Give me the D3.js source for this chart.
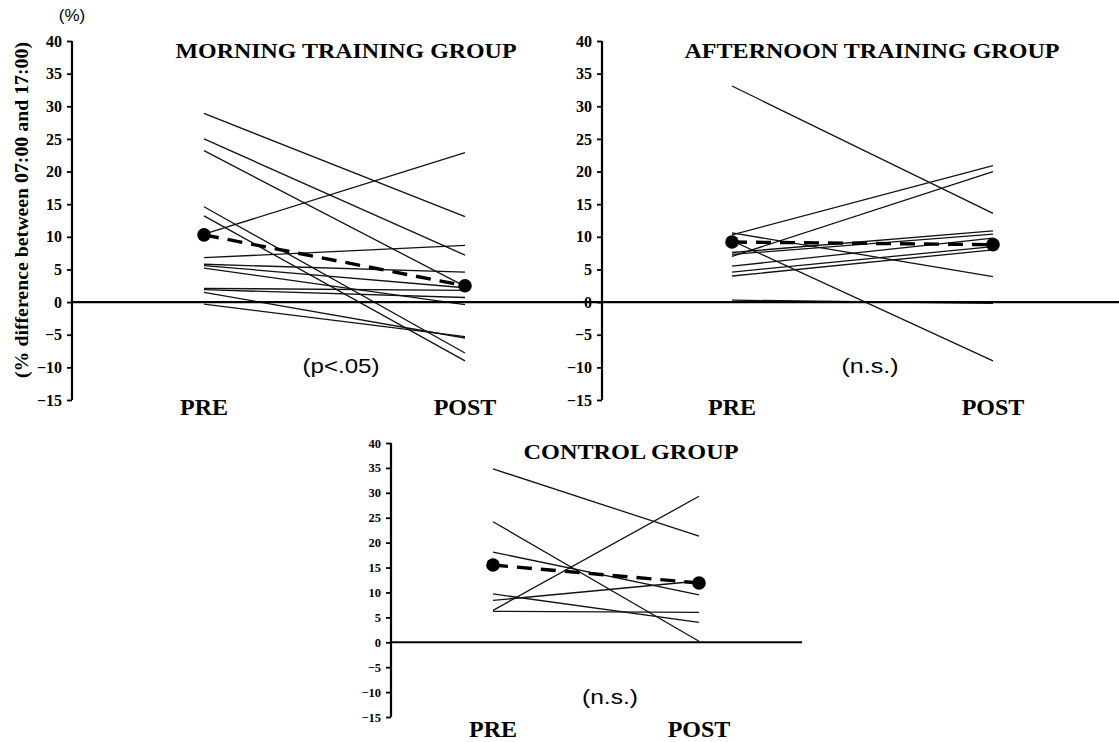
<!DOCTYPE html>
<html>
<head>
<meta charset="utf-8">
<script src="https://cdn.jsdelivr.net/npm/d3@7"></script>
<style>
  body { margin: 0; background: #fff; }
  text { fill: #000; }
  .serif { font-family: "Liberation Serif", "Times New Roman", serif; font-weight: bold; }
  .sans { font-family: "Liberation Sans", Arial, sans-serif; }
</style>
</head>
<body>
<div id="chart"></div>
<script>
// values (% difference between 07:00 and 17:00)
var phases = ['PRE', 'POST'];
var yTicks = [-15, -10, -5, 0, 5, 10, 15, 20, 25, 30, 35, 40];

var morningPre  = [28.9, 25.0, 23.2, 14.6, 13.2, 10.4, 6.8, 5.8, 5.6, 5.2, 2.1, 1.9, 1.5, -0.3];
var morningPost = [13.1, 7.2, 2.4, -7.8, -9.0, 22.9, 8.7, 4.6, 2.2, -0.4, 1.8, 0.7, -5.5, -5.3];
var morningMean = [10.3, 2.5];

var afternoonPre  = [33.1, 10.3, 7.0, 10.6, 9.4, 0.3, 7.6, 7.3, 5.5, 4.6, 4.0];
var afternoonPost = [13.6, 20.9, 20.0, 3.9, -9.0, -0.2, 10.9, 10.4, 9.8, 8.5, 8.0];
var afternoonMean = [9.2, 8.8];

var controlPre  = [34.8, 24.2, 18.1, 9.7, 8.4, 6.4, 6.2];
var controlPost = [21.3, 0.2, 9.5, 4.0, 12.3, 29.3, 6.0];
var controlMean = [15.5, 11.9];

var svg = d3.select('#chart').append('svg')
            .attr('width', 1119)
            .attr('height', 742);

var panels = [
  {title: 'MORNING TRAINING GROUP', note: '(p<.05)', pre: morningPre, post: morningPost, mean: morningMean,
   axisX: 72, preX: 204, postX: 465, top: 41, bottom: 400, zeroEnd: 602,
   titleX: 346, titleY: 58, titleW: 341, noteX: 341, noteY: 373, noteW: 77, labelY: 415, tickFont: 16},
  {title: 'AFTERNOON TRAINING GROUP', note: '(n.s.)', pre: afternoonPre, post: afternoonPost, mean: afternoonMean,
   axisX: 602, preX: 732, postX: 993, top: 41, bottom: 400, zeroEnd: 1119,
   titleX: 872, titleY: 58, titleW: 375, noteX: 870, noteY: 373, noteW: 57, labelY: 415, tickFont: 16},
  {title: 'CONTROL GROUP', note: '(n.s.)', pre: controlPre, post: controlPost, mean: controlMean,
   axisX: 391, preX: 493, postX: 699, top: 443, bottom: 717, zeroEnd: 802,
   titleX: 631, titleY: 459, titleW: 215, noteX: 610, noteY: 704, noteW: 56, labelY: 737, tickFont: 12.5}
];

panels.forEach(function(p) {
  var y = d3.scaleLinear().domain([-15, 40]).range([p.bottom, p.top]);
  var x = d3.scalePoint().domain(phases).range([p.preX, p.postX]);
  var g = svg.append('g');

  // individual subjects
  var pairs = p.pre.map(function(v, i) { return [v, p.post[i]]; });
  g.selectAll('line.subject')
   .data(pairs)
   .enter().append('line')
     .attr('class', 'subject')
     .attr('x1', x('PRE')).attr('x2', x('POST'))
     .attr('y1', function(d) { return y(d[0]); })
     .attr('y2', function(d) { return y(d[1]); })
     .style('stroke', '#111')
     .style('stroke-width', 1.3);

  // zero line
  g.append('line')
   .attr('x1', p.axisX).attr('x2', p.zeroEnd)
   .attr('y1', y(0)).attr('y2', y(0))
   .style('stroke', '#000').style('stroke-width', 2.2);

  // y axis
  var axis = g.append('g')
              .attr('transform', 'translate(' + p.axisX + ',0)')
              .call(d3.axisLeft(y).tickValues(yTicks).tickSize(5).tickPadding(5));
  axis.select('.domain').style('stroke-width', 2.2).attr('d', 'M0,' + p.top + 'V' + p.bottom);
  axis.selectAll('.tick line').style('stroke-width', 1.8);
  axis.selectAll('.tick text')
      .attr('class', 'serif')
      .style('font-size', p.tickFont + 'px');

  // mean line
  g.append('path')
   .datum(p.mean)
   .attr('d', d3.line().x(function(d, i) { return x(phases[i]); }).y(function(d) { return y(d); }))
   .style('fill', 'none').style('stroke', '#000')
   .style('stroke-width', 3.4).style('stroke-dasharray', '15,9');
  g.selectAll('circle')
   .data(p.mean)
   .enter().append('circle')
     .attr('cx', function(d, i) { return x(phases[i]); })
     .attr('cy', function(d) { return y(d); })
     .attr('r', 6.8)
     .style('fill', '#000');

  // texts
  g.append('text').attr('class', 'serif')
   .attr('x', p.titleX).attr('y', p.titleY)
   .attr('text-anchor', 'middle').style('font-size', '22px')
   .attr('textLength', p.titleW).attr('lengthAdjust', 'spacingAndGlyphs')
   .text(p.title);
  g.append('text').attr('class', 'sans')
   .attr('x', p.noteX).attr('y', p.noteY)
   .attr('text-anchor', 'middle').style('font-size', '21px')
   .attr('textLength', p.noteW).attr('lengthAdjust', 'spacingAndGlyphs')
   .text(p.note);
  g.selectAll('text.phase')
   .data(phases)
   .enter().append('text')
     .attr('class', 'serif phase')
     .attr('x', function(d) { return x(d); })
     .attr('y', p.labelY)
     .attr('text-anchor', 'middle').style('font-size', '24px')
     .text(function(d) { return d; });
});

svg.append('text').attr('class', 'sans')
   .attr('x', 72).attr('y', 21)
   .attr('text-anchor', 'middle').style('font-size', '17px')
   .text('(%)');

svg.append('text').attr('class', 'serif')
   .attr('transform', 'translate(28,210) rotate(-90)')
   .attr('text-anchor', 'middle').style('font-size', '19px')
   .attr('textLength', 336).attr('lengthAdjust', 'spacingAndGlyphs')
   .text('(% difference between 07:00 and 17:00)');
</script>
</body>
</html>
